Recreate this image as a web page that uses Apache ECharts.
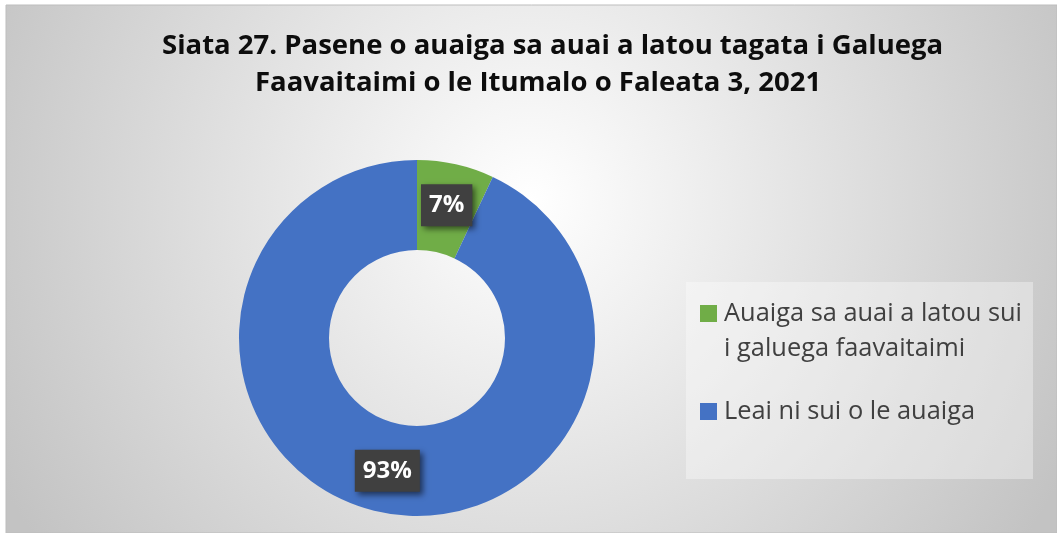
<!DOCTYPE html>
<html>
<head>
<meta charset="utf-8">
<script src="https://cdn.jsdelivr.net/npm/echarts@6/dist/echarts.min.js"></script>
<style>
  html, body { margin: 0; padding: 0; background: #fff; }
  #chart { width: 1057px; height: 533px; }
</style>
</head>
<body>
<div id="chart"></div>
<script>
// datos del grafico
const titleLines = [
  "Siata 27. Pasene o auaiga sa auai a latou tagata i Galuega",
  "Faavaitaimi o le Itumalo o Faleata 3, 2021",
];
const categories = ["Auaiga sa auai a latou sui i galuega faavaitaimi", "Leai ni sui o le auaiga"];
// primera linea vacia: el icono queda alineado con la primera linea del texto
const legendLabels = ["\nAuaiga sa auai a latou sui\ni galuega faavaitaimi", "Leai ni sui o le auaiga"];
const values = [7, 93];
const colors = ["#70AD47", "#4472C4"];

const myEcharts = echarts.init(document.getElementById("chart"));

const titleStyle = {
  fontFamily: "Open Sans",
  fontWeight: "bold",
  fontSize: 27.5,
  lineHeight: 36,
  color: "#0d0d0d",
};

let option = {
  animation: false,
  title: [
    { text: titleLines[0], left: 162, top: 28, padding: 0, textStyle: titleStyle },
    { text: titleLines[1], left: 255, top: 65, padding: 0, textStyle: titleStyle },
  ],
  graphic: [
    {
      // fondo con degradado
      type: "rect",
      z: -10,
      shape: { x: 6, y: 5, width: 1051, height: 528 },
      style: {
        fill: new echarts.graphic.RadialGradient(530, 200, 600, [
          { offset: 0, color: "#ffffff" },
          { offset: 1, color: "#c3c3c3" },
        ], true),
        stroke: "#bdbdbd",
        lineWidth: 1,
      },
      silent: true,
    },
    {
      // caja de la leyenda
      type: "rect",
      z: -5,
      shape: { x: 686, y: 282, width: 347, height: 197 },
      style: { fill: "rgba(255,255,255,0.35)" },
      silent: true,
    },
  ],
  legend: {
    orient: "vertical",
    left: 700,
    top: 261,
    padding: 0,
    itemWidth: 17,
    itemHeight: 17,
    itemGap: 28,
    icon: "rect",
    textStyle: {
      fontFamily: "Open Sans",
      fontSize: 25.4,
      lineHeight: 35,
      color: "#404040",
      padding: [0, 0, 0, 2],
    },
    formatter: (name) => legendLabels[categories.indexOf(name)],
    data: categories,
  },
  series: [
    {
      type: "pie",
      center: [417, 338],
      radius: [88, 178],
      startAngle: 90,
      clockwise: true,
      silent: true,
      emphasis: { disabled: true },
      label: {
        show: true,
        position: "inside",
        formatter: "{c}%",
        fontFamily: "Open Sans",
        fontWeight: "bold",
        fontSize: 24,
        lineHeight: 26,
        color: "#fff",
        backgroundColor: "#404040",
        padding: [8, 8],
        shadowColor: "rgba(0,0,0,0.55)",
        shadowBlur: 6,
        shadowOffsetX: 3,
        shadowOffsetY: 3,
      },
      labelLine: { show: false },
      data: categories.map((name, i) => ({
        name: name,
        value: values[i],
        itemStyle: { color: colors[i] },
      })),
    },
  ],
};

myEcharts.setOption(option);
</script>
</body>
</html>
